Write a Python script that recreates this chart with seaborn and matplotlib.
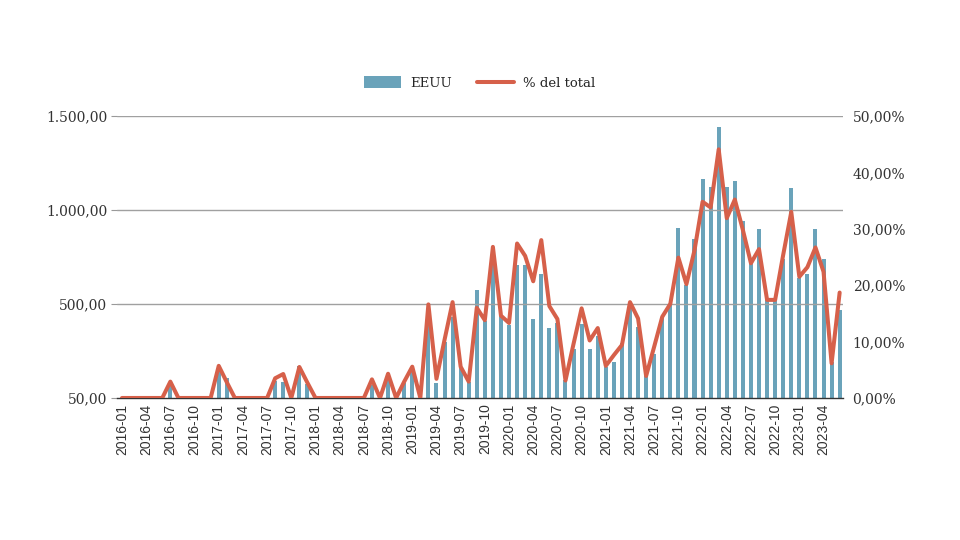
import numpy as np
import pandas as pd
import matplotlib.pyplot as plt
import seaborn as sns

# Monthly series, 2016-01 .. 2023-06
months = pd.period_range("2016-01", "2023-06", freq="M").strftime("%Y-%m").tolist()

eeuu = [0, 0, 0, 0, 0, 0, 65, 0, 0, 0, 0, 0,            # 2016
        166, 106, 0, 0, 0, 0, 0, 92, 85, 0, 170, 72,     # 2017
        0, 0, 0, 0, 0, 0, 0, 68, 0, 110, 0, 78,          # 2018
        140, 0, 420, 80, 300, 430, 167, 85, 574, 410, 783, 440,   # 2019
        390, 705, 705, 422, 660, 375, 400, 96, 258, 394, 263, 330,  # 2020
        167, 193, 291, 477, 379, 117, 234, 432, 500, 903, 601, 844,  # 2021
        1163, 1121, 1443, 1121, 1156, 941, 716, 897, 521, 525, 738, 1115,  # 2022
        637, 660, 897, 738, 190, 468]                    # 2023

pct_total = [0, 0, 0, 0, 0, 0, 2.9, 0, 0, 0, 0, 0,
             5.7, 2.8, 0, 0, 0, 0, 0, 3.5, 4.25, 0, 5.5, 2.7,
             0, 0, 0, 0, 0, 0, 0, 3.3, 0, 4.3, 0, 2.9,
             5.55, 0, 16.6, 3.4, 10.3, 17.0, 5.55, 2.9, 16.0, 13.8, 26.8, 14.6,
             13.3, 27.4, 25.2, 20.7, 28.0, 16.3, 14.0, 3.1, 9.6, 15.9, 10.2, 12.4,
             5.7, 7.6, 9.4, 17.0, 14.1, 3.9, 9.1, 14.4, 16.7, 24.9, 20.2, 26.2,
             34.8, 33.8, 44.1, 31.9, 35.2, 29.8, 23.9, 26.4, 17.4, 17.4, 25.4, 33.0,
             21.5, 23.2, 26.7, 22.4, 6.15, 18.7]

left_ticks = [0, 500, 1000, 1500]
left_labels = ["50,00", "500,00", "1.000,00", "1.500,00"]
right_ticks = [0, 10, 20, 30, 40, 50]
right_labels = ["0,00%", "10,00%", "20,00%", "30,00%", "40,00%", "50,00%"]

df = pd.DataFrame({"mes": months, "EEUU": eeuu, "pct": pct_total})

blue = "#6aa3ba"
red = "#d6604a"
serif = "DejaVu Serif"

sns.set_style("white")
plt.rcParams["font.family"] = ["DejaVu Sans"]

fig = plt.figure(figsize=(9.6, 5.4), dpi=100)
ax = fig.add_axes([0.122, 0.263, 0.756, 0.522])

sns.barplot(data=df, x="mes", y="EEUU", color=blue, saturation=1,
            width=0.5, linewidth=0, ax=ax, label="EEUU", zorder=2)

ax2 = ax.twinx()
sns.lineplot(data=df, x="mes", y="pct", color=red, lw=2.9, ax=ax2,
             label="% del total", sort=False)

# axes / ticks
ax.set_xlim(-0.6, len(months) - 0.6)
ax.set_ylim(0, 1500)
ax2.set_ylim(0, 50)

ax.set_yticks(left_ticks, labels=left_labels, fontfamily=serif, fontsize=10, color="#333333")
ax2.set_yticks(right_ticks, labels=right_labels, fontfamily=serif, fontsize=10, color="#333333")
ax.set_xticks(range(0, len(months), 3), labels=months[::3], rotation=90,
              fontfamily="Liberation Sans", fontsize=10, color="#333333")

ax.tick_params(axis="y", length=4, width=0.8, color="#999999", pad=3, left=True)
ax2.tick_params(axis="y", length=0, pad=7)
ax.tick_params(axis="x", length=0, pad=4)

# gridlines run over the bars
for h in left_ticks[1:]:
    ax.axhline(h, color="#a0a0a0", lw=1, zorder=3)

for a in (ax, ax2):
    for s in ("top", "left", "right"):
        a.spines[s].set_visible(False)
    a.set_xlabel("")
    a.set_ylabel("")
ax.spines["bottom"].set_color("#333333")
ax.spines["bottom"].set_linewidth(1.0)
ax.spines["bottom"].set_zorder(4)
ax2.spines["bottom"].set_visible(False)

# legend on top
h1, l1 = ax.get_legend_handles_labels()
h2, l2 = ax2.get_legend_handles_labels()
for a in (ax, ax2):
    if a.get_legend() is not None:
        a.get_legend().remove()
fig.legend(h1 + h2, l1 + l2, loc="center", bbox_to_anchor=(0.5, 0.846), ncol=2,
           frameon=False, prop={"family": serif, "size": 9.5}, handlelength=2.8,
           handleheight=1.0, handletextpad=0.7, columnspacing=1.9)

fig.savefig("out.png", dpi=100)
